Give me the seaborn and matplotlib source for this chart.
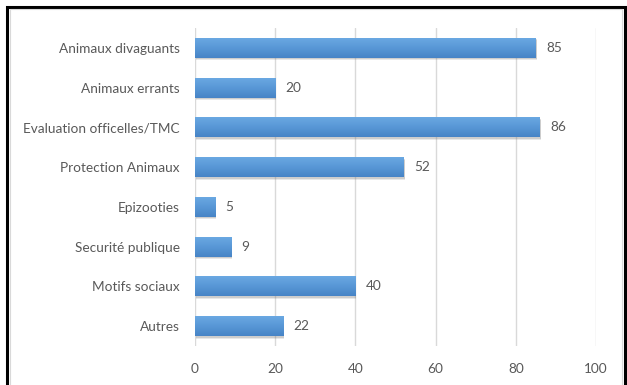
import numpy as np
import pandas as pd
import matplotlib
matplotlib.use("Agg")
import matplotlib.pyplot as plt
from matplotlib.patches import Rectangle
import matplotlib.transforms as mtransforms
import seaborn as sns

categories = [
    "Animaux divaguants",
    "Animaux errants",
    "Evaluation officelles/TMC",
    "Protection Animaux",
    "Epizooties",
    "Securité publique",
    "Motifs sociaux",
    "Autres",
]
values = [85, 20, 86, 52, 5, 9, 40, 22]
x_ticks = [0, 20, 40, 60, 80, 100]

df = pd.DataFrame({"motif": categories, "nombre": values})

sns.set_theme(style="white")
plt.rcParams["font.family"] = ["Lato", "DejaVu Sans"]

text_grey = "#595959"
fig = plt.figure(figsize=(6.27, 3.85), dpi=100)
ax = fig.add_axes([195 / 627, 1 - 346 / 385, (596 - 195) / 627, (346 - 28) / 385])

sns.barplot(data=df, x="nombre", y="motif", orient="h", color="#5B9BD5",
            width=0.5, ax=ax, zorder=3)

ax.set_xlim(0, 100)
ax.set_ylim(len(categories) - 0.5, -0.5)
ax.set_xticks(x_ticks)
ax.set_xticklabels([str(t) for t in x_ticks])
ax.set_xlabel("")
ax.set_ylabel("")
ax.grid(axis="x", color="#d9d9d9", linewidth=1, zorder=0)
ax.grid(axis="y", visible=False)
for s in ax.spines.values():
    s.set_visible(False)
ax.tick_params(axis="both", length=0, colors=text_grey, labelsize=9.8)
ax.tick_params(axis="x", pad=12)
ax.tick_params(axis="y", pad=11)

# gradient fill with soft drop shadow for each bar
grad = np.linspace(0, 1, 64).reshape(-1, 1)
cmap = matplotlib.colors.LinearSegmentedColormap.from_list(
    "bar", ["#6aa8e2", "#5897d6", "#4784c6"])
for p, v in zip(ax.patches, values):
    x0, y0 = p.get_x(), p.get_y()
    w, h = p.get_width(), p.get_height()
    for k, (dx, dy, a) in enumerate([(1.0, -2.5, 0.18), (1.0, -1.5, 0.25)]):
        sh = mtransforms.offset_copy(ax.transData, fig=fig, x=dx, y=dy, units="dots")
        ax.add_patch(Rectangle((x0, y0), w, h, transform=sh, facecolor="#808080",
                               alpha=a, edgecolor="none", zorder=2))
    p.set_facecolor("none")
    p.set_edgecolor("none")
    im = ax.imshow(grad, cmap=cmap, aspect="auto",
                   extent=(x0, x0 + w, y0 + h, y0), zorder=3.5,
                   interpolation="bilinear")
    im.set_clip_path(p)
    ax.text(v + 2.6, y0 + h / 2, str(v), va="center", ha="left",
            fontsize=9.8, color=text_grey, zorder=4)

ax.set_xlim(0, 100)
ax.set_ylim(len(categories) - 0.5, -0.5)

# chart frame
fig.patches.append(Rectangle((7 / 627, -0.05), (625 - 7) / 627, 1.05 - 7 / 385,
                             transform=fig.transFigure, fill=False,
                             edgecolor="black", linewidth=2.2))
fig.patches.append(Rectangle((9.5 / 627, -0.05), (622 - 9.5) / 627, 1.05 - 9.5 / 385,
                             transform=fig.transFigure, fill=False,
                             edgecolor="#d9d9d9", linewidth=0.8))

fig.savefig("out.png", dpi=100)
